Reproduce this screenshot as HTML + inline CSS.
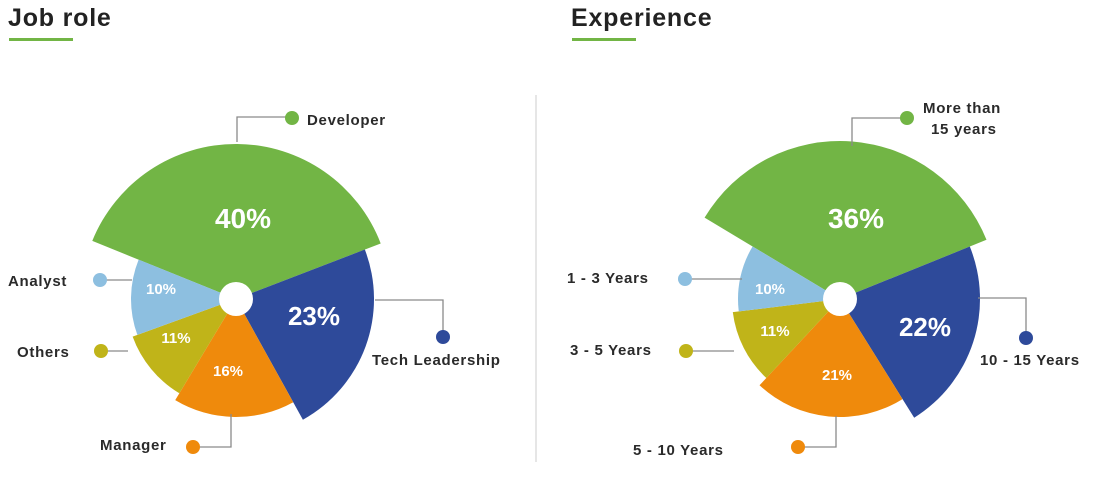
<!DOCTYPE html>
<html><head><meta charset="utf-8"><style>
html,body{margin:0;padding:0;background:#fff;}
svg{display:block;font-family:"Liberation Sans",sans-serif;}
.lbl{font-size:15px;font-weight:bold;fill:#2a2a2a;letter-spacing:0.7px;}
.pct{fill:#fff;font-weight:bold;text-anchor:middle;}
.ld{stroke:#8a8a8a;stroke-width:1.3;fill:none;}
</style></head><body>
<svg id="s" width="1102" height="490" viewBox="0 0 1102 490">
<text x="8" y="26" font-size="25" font-weight="bold" fill="#222" letter-spacing="0.8">Job role</text>
<rect x="9" y="38" width="64" height="3" fill="#72b545"/>
<text x="571" y="26" font-size="25" font-weight="bold" fill="#222" letter-spacing="0.8">Experience</text>
<rect x="572" y="38" width="64" height="3" fill="#72b545"/>
<line x1="536" y1="95" x2="536" y2="462" stroke="#ccc" stroke-width="1"/>
<g id="g"></g>

<polyline class="ld" points="237,142 237,117 292,117"/><circle cx="292" cy="118" r="7" fill="#72b545"/>
<text class="lbl" x="307" y="125">Developer</text>
<polyline class="ld" points="375,300 443,300 443,337"/><circle cx="443" cy="337" r="7" fill="#2e4a9a"/>
<text class="lbl" x="372" y="365">Tech Leadership</text>
<line class="ld" x1="100" y1="280" x2="132" y2="280"/><circle cx="100" cy="280" r="7" fill="#8dbfe0"/>
<text class="lbl" x="8" y="286">Analyst</text>
<line class="ld" x1="101" y1="351" x2="128" y2="351"/><circle cx="101" cy="351" r="7" fill="#c0b419"/>
<text class="lbl" x="17" y="357">Others</text>
<polyline class="ld" points="193,447 231,447 231,414"/><circle cx="193" cy="447" r="7" fill="#ef8a0c"/>
<text class="lbl" x="100" y="450">Manager</text>

<polyline class="ld" points="852,146 852,118 907,118"/><circle cx="907" cy="118" r="7" fill="#72b545"/>
<text class="lbl" x="923" y="113">More than</text><text class="lbl" x="931" y="134">15 years</text>
<polyline class="ld" points="978,298 1026,298 1026,338"/><circle cx="1026" cy="338" r="7" fill="#2e4a9a"/>
<text class="lbl" x="980" y="365">10 - 15 Years</text>
<line class="ld" x1="685" y1="279" x2="742" y2="279"/><circle cx="685" cy="279" r="7" fill="#8dbfe0"/>
<text class="lbl" x="567" y="283">1 - 3 Years</text>
<line class="ld" x1="686" y1="351" x2="734" y2="351"/><circle cx="686" cy="351" r="7" fill="#c0b419"/>
<text class="lbl" x="570" y="355">3 - 5 Years</text>
<polyline class="ld" points="798,447 836,447 836,416"/><circle cx="798" cy="447" r="7" fill="#ef8a0c"/>
<text class="lbl" x="633" y="455">5 - 10 Years</text>

<g id="t">
<text class="pct" x="243" y="228" font-size="28">40%</text>
<text class="pct" x="314" y="325" font-size="26">23%</text>
<text class="pct" x="161" y="294" font-size="15">10%</text>
<text class="pct" x="176" y="343" font-size="15">11%</text>
<text class="pct" x="228" y="376" font-size="15">16%</text>
<text class="pct" x="856" y="228" font-size="28">36%</text>
<text class="pct" x="925" y="336" font-size="26">22%</text>
<text class="pct" x="770" y="294" font-size="15">10%</text>
<text class="pct" x="775" y="336" font-size="15">11%</text>
<text class="pct" x="837" y="380" font-size="15">21%</text>
</g>
</svg>
<script>
var g=document.getElementById('g'),ns='http://www.w3.org/2000/svg';
function pt(cx,cy,r,a){a=a*Math.PI/180;return [cx+r*Math.sin(a),cy-r*Math.cos(a)];}
function sl(cx,cy,r,a0,a1,c){var p0=pt(cx,cy,r,a0),p1=pt(cx,cy,r,a1);
var d='M'+cx+','+cy+'L'+p0+'A'+r+','+r+' 0 '+((a1-a0)>180?1:0)+' 1 '+p1+'Z';
var e=document.createElementNS(ns,'path');e.setAttribute('d',d);e.setAttribute('fill',c);g.appendChild(e);}
function pie(cx,cy,s){s.forEach(function(x){sl(cx,cy,x[0],x[1],x[2],x[3]);});
var c=document.createElementNS(ns,'circle');c.setAttribute('cx',cx);c.setAttribute('cy',cy);c.setAttribute('r',17);c.setAttribute('fill','#fff');g.appendChild(c);}
pie(236,299,[[155,-68,69,'#72b545'],[138,69,151,'#2e4a9a'],[118,151,211,'#ef8a0c'],[110,211,250,'#c0b419'],[105,250,292,'#8dbfe0']]);
pie(840,299,[[158,-59,68,'#72b545'],[140,68,148,'#2e4a9a'],[118,148,223,'#ef8a0c'],[108,223,263,'#c0b419'],[102,263,301,'#8dbfe0']]);
</script>
</body></html>
